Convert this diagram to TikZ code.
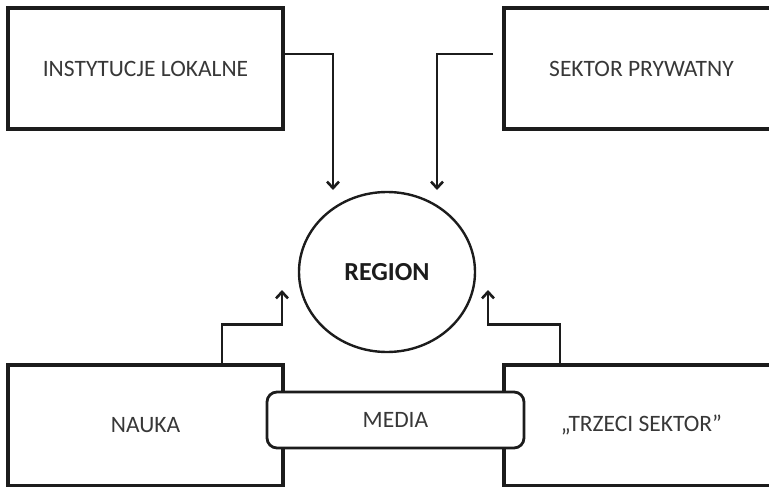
\documentclass[tikz,border=0pt]{standalone}
\usepackage{fontspec}
\setmainfont{Carlito}
\usepackage{xcolor}
\usepackage{tikz}
\usetikzlibrary{shapes,arrows.meta,positioning,calc}

\definecolor{ink}{HTML}{1C1C1C}
\definecolor{txt}{HTML}{383838}

\begin{document}
\begin{tikzpicture}[
    x=1pt, y=-1pt,
    font=\fontsize{23.5}{26}\selectfont,
    >={Straight Barb[length=6.5pt,width=12pt,line width=2.6pt]},
    actor/.style={draw=ink, line width=4pt, rectangle, minimum width=275pt, minimum height=121pt, text=txt},
    hub/.style={draw=ink, line width=2.4pt, ellipse, minimum width=176pt, minimum height=160pt, font=\fontsize{26}{30}\selectfont\bfseries, text=ink},
    media/.style={draw=ink, line width=2.8pt, rectangle, rounded corners=10pt, fill=white, minimum width=257pt, minimum height=56pt, text=txt},
    flow/.style={draw=ink, line width=2.6pt, ->}
  ]

  \useasboundingbox (0,0) rectangle (769,487);
  \clip (0,0) rectangle (769,487);

  % podmioty
  \node[actor] (inst) at (145.5,68.5) {INSTYTUCJE LOKALNE};
  \node[actor] (sektor) at (641.5,68.5) {SEKTOR PRYWATNY};
  \node[actor] (nauka) at (145.5,425) {NAUKA};
  \node[actor] (trzeci) at (641.5,425) {„TRZECI SEKTOR''};

  % region
  \node[hub] (region) at (387,272) {REGION};

  % media
  \node[media] (media) at (395.5,420) {MEDIA};

  % koncowki strzalek
  \coordinate (inA) at (333,190);
  \coordinate (inB) at (437,190);
  \coordinate (inC) at (282,290);
  \coordinate (inD) at (488,290);

  \draw[flow] ([yshift=14.5pt]inst.east) -| (inA);
  \draw[flow] ([xshift=-9pt,yshift=14.5pt]sektor.west) -| (inB);
  \draw[flow] ([xshift=76.5pt]nauka.north) -- ++(0,-38) -| (inC);
  \draw[flow] ([xshift=-81.5pt]trzeci.north) -- ++(0,-38) -| (inD);
\end{tikzpicture}
\end{document}
